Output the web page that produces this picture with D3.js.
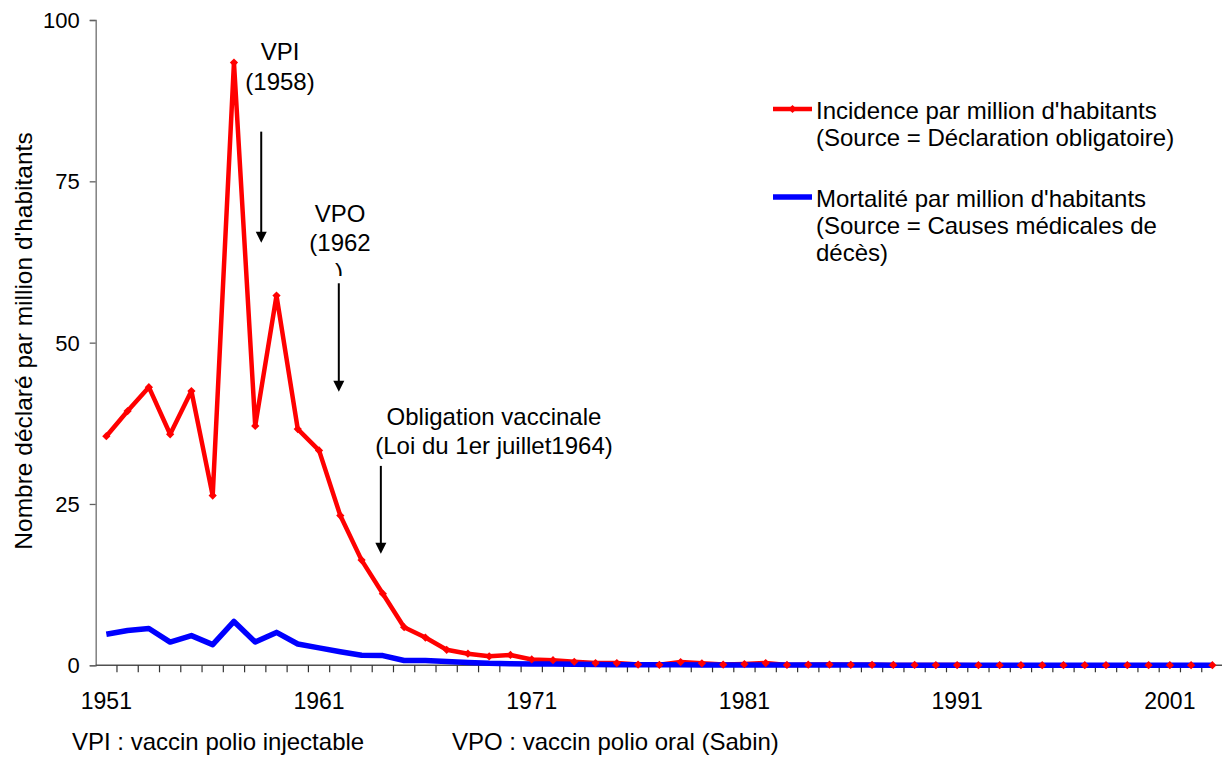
<!DOCTYPE html>
<html>
<head>
<meta charset="utf-8">
<script src="https://cdn.jsdelivr.net/npm/d3@7"></script>
<style>
  body { margin: 0; background: #fff; }
  text { font-family: "Liberation Sans", Arial, sans-serif; fill: #000; }
</style>
</head>
<body>
<script>
// années 1951 -> 2003
var years = d3.range(1951, 2004);
// incidence par million d'habitants (déclaration obligatoire)
var incidence = [35.5, 39.4, 43.1, 35.8, 42.5, 26.3, 93.4, 37.1, 57.3, 36.6,
    33.3, 23.2, 16.3, 11.1, 5.9, 4.3, 2.4, 1.8, 1.4, 1.6,
    0.9, 0.8, 0.55, 0.35, 0.35, 0.12, 0.08, 0.5, 0.3, 0.12,
    0.2, 0.35, 0.06, 0.1, 0.12, 0.08, 0.08, 0.05, 0.05, 0.03,
    0.03, 0.02, 0.02, 0.02, 0.02, 0.02, 0.02, 0.02, 0.02, 0.02,
    0.02, 0.02, 0.02];
// mortalité par million d'habitants (causes médicales de décès)
var mortalite = [4.8, 5.4, 5.7, 3.6, 4.6, 3.2, 6.8, 3.6, 5.1, 3.3,
    2.7, 2.1, 1.55, 1.5, 0.75, 0.75, 0.6, 0.45, 0.3, 0.25,
    0.2, 0.2, 0.15, 0.12, 0.1, 0.08, 0.08, 0.07, 0.06, 0.05,
    0.05, 0.04, 0.04, 0.03, 0.03, 0.03, 0.03, 0.02, 0.02, 0.02,
    0.02, 0.02, 0.02, 0.02, 0.02, 0.02, 0.02, 0.02, 0.02, 0.02,
    0.02, 0.02, 0.02];
var yTicks = [0, 25, 50, 75, 100];
var xLabels = [1951, 1961, 1971, 1981, 1991, 2001];
var legendLabels = [
    ["Incidence par million d'habitants", "(Source = Déclaration obligatoire)"],
    ["Mortalité par million d'habitants", "(Source = Causes médicales de", "décès)"]
];

var W = 1222, H = 760;
var x0 = 95.7, step = 21.27, yBottom = 665.3, yTop = 20;
var fs = 24;

var svg = d3.select("body").append("svg")
    .attr("width", W)
    .attr("height", H);

var x = d3.scaleBand()
    .domain(years)
    .range([x0, x0 + years.length * step])
    .padding(0);
function xc(yr) {
    return x(yr) + x.bandwidth() / 2;
}
var y = d3.scaleLinear().domain([0, 100]).range([yBottom, yTop]);

//axe des ordonnées
var gy = svg.append("g")
    .attr("transform", "translate(" + x0 + ",0)")
    .call(d3.axisLeft(y).tickValues(yTicks).tickSize(6).tickPadding(10));
gy.select(".domain").attr("stroke", "#808080").attr("stroke-width", 1.5);
gy.selectAll(".tick line").attr("stroke", "#606060").attr("stroke-width", 1.3);
gy.selectAll(".tick text")
    .attr("font-size", 22)
    .attr("font-family", "Liberation Sans, Arial, sans-serif")
    .attr("dy", "0.34em");

//axe des abscisses
var gx = svg.append("g")
    .attr("transform", "translate(0," + yBottom + ")")
    .call(d3.axisBottom(x).tickValues(xLabels).tickSize(0).tickPadding(27));
gx.select(".domain").remove();
gx.selectAll(".tick text")
    .attr("font-size", 23)
    .attr("font-family", "Liberation Sans, Arial, sans-serif");

svg.append("line")
    .attr("x1", x0).attr("x2", W)
    .attr("y1", yBottom).attr("y2", yBottom)
    .attr("stroke", "#505050")
    .attr("stroke-width", 1.5);

// graduations entre les années
svg.append("g")
    .selectAll("line")
    .data(years.slice(1))
    .enter()
    .append("line")
    .attr("x1", function (d) { return x(d); })
    .attr("x2", function (d) { return x(d); })
    .attr("y1", yBottom)
    .attr("y2", yBottom + 7)
    .attr("stroke", "#333")
    .attr("stroke-width", 1.2);

// courbes
var incData = years.map(function (d, i) { return {year: d, v: incidence[i]}; });
var morData = years.map(function (d, i) { return {year: d, v: mortalite[i]}; });

var line = d3.line()
    .x(function (d) { return xc(d.year); })
    .y(function (d) { return y(d.v); });

svg.append("path")
    .datum(incData)
    .attr("d", line)
    .attr("fill", "none")
    .attr("stroke", "#ff0000")
    .attr("stroke-width", 4.5)
    .attr("stroke-linejoin", "round");

svg.append("path")
    .datum(morData)
    .attr("d", line)
    .attr("fill", "none")
    .attr("stroke", "#0000ff")
    .attr("stroke-width", 5.5)
    .attr("stroke-linejoin", "round");

var diamond = d3.symbol().type(d3.symbolSquare).size(34);
svg.append("g")
    .selectAll("path")
    .data(incData)
    .enter()
    .append("path")
    .attr("d", diamond)
    .attr("transform", function (d) {
        return "translate(" + xc(d.year) + "," + y(d.v) + ") rotate(45)";
    })
    .attr("fill", "#ff0000");

// titre de l'axe Y
svg.append("text")
    .attr("transform", "translate(32,341) rotate(-90)")
    .attr("text-anchor", "middle")
    .attr("font-size", 24.5)
    .text("Nombre déclaré par million d'habitants");

// légende
var legY = [109, 197];
var legColors = ["#ff0000", "#0000ff"];
var legWidths = [4.5, 5.5];
legendLabels.forEach(function (lines, k) {
    svg.append("line")
        .attr("x1", 773).attr("x2", 812)
        .attr("y1", legY[k]).attr("y2", legY[k])
        .attr("stroke", legColors[k])
        .attr("stroke-width", legWidths[k]);
    if (k === 0) {
        svg.append("path")
            .attr("d", diamond)
            .attr("transform", "translate(792.5," + legY[k] + ") rotate(45)")
            .attr("fill", "#ff0000");
    }
    var t = svg.append("text")
        .attr("x", 816)
        .attr("y", legY[k] + 10)
        .attr("font-size", fs);
    lines.forEach(function (s, j) {
        t.append("tspan")
            .attr("x", 816)
            .attr("dy", j === 0 ? 0 : 27)
            .text(s);
    });
});

// annotations
var notes = [
    {lines: ["VPI", "(1958)"], cx: 280, y: 60, lh: 30},
    {lines: ["VPO", "(1962"], cx: 340, y: 221.5, lh: 29},
    {lines: ["Obligation vaccinale", "(Loi du 1er juillet1964)"], cx: 494, y: 425, lh: 28.5}
];
notes.forEach(function (n) {
    var t = svg.append("text")
        .attr("text-anchor", "middle")
        .attr("font-size", fs)
        .attr("y", n.y);
    n.lines.forEach(function (s, j) {
        t.append("tspan")
            .attr("x", n.cx)
            .attr("dy", j === 0 ? 0 : n.lh)
            .text(s);
    });
});

// parenthèse coupée sous "(1962"
svg.append("clipPath")
    .attr("id", "cutParen")
    .append("rect")
    .attr("x", 320).attr("y", 262).attr("width", 40).attr("height", 14);
svg.append("text")
    .attr("x", 339)
    .attr("y", 280)
    .attr("text-anchor", "middle")
    .attr("font-size", fs)
    .attr("clip-path", "url(#cutParen)")
    .text(")");

// flèches (année visée, valeurs de départ et d'arrivée sur l'axe Y)
var arrows = [
    {year: 1958, dx: 6, from: 82.7, to: 65.5},
    {year: 1962, dx: -1.5, from: 59.2, to: 42.4},
    {year: 1964, dx: -2, from: 30.9, to: 17.3}
];
var ga = svg.append("g");
arrows.forEach(function (a) {
    var ax = xc(a.year) + a.dx;
    var y1 = y(a.from), y2 = y(a.to);
    ga.append("line")
        .attr("x1", ax).attr("x2", ax)
        .attr("y1", y1).attr("y2", y2 - 10)
        .attr("stroke", "#000")
        .attr("stroke-width", 2);
    ga.append("path")
        .attr("d", "M" + (ax - 5.5) + "," + (y2 - 11) + "L" + (ax + 5.5) + "," + (y2 - 11) + "L" + ax + "," + y2 + "Z")
        .attr("fill", "#000");
});

// notes en bas
svg.append("text")
    .attr("x", 72)
    .attr("y", 750)
    .attr("font-size", fs)
    .text("VPI : vaccin polio injectable");
svg.append("text")
    .attr("x", 452)
    .attr("y", 750)
    .attr("font-size", fs)
    .text("VPO : vaccin polio oral (Sabin)");
</script>
</body>
</html>
